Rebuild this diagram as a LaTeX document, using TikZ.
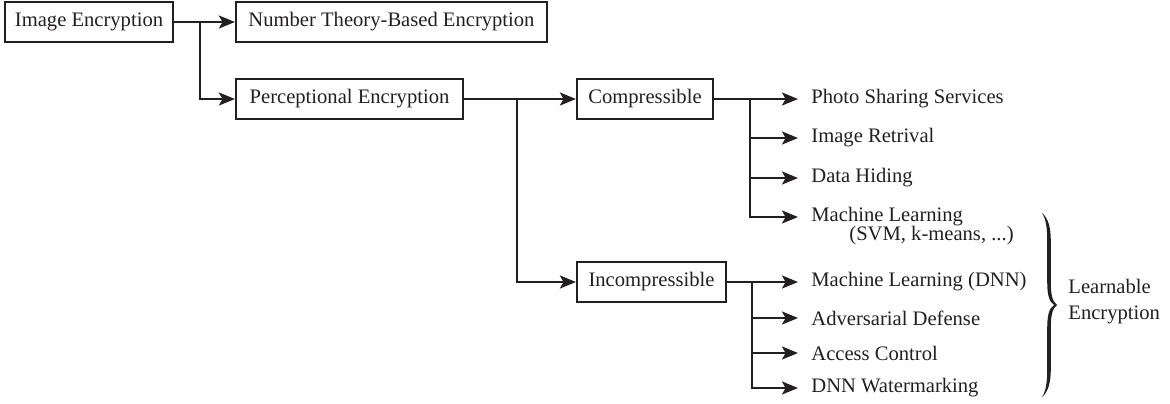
\documentclass[tikz,border=0pt]{standalone}
\usepackage{fontspec}
\setmainfont{Liberation Serif}
\usetikzlibrary{arrows.meta}
\definecolor{ink}{HTML}{231F20}
\tikzset{
  fnt/.style={font=\fontsize{10.3}{12.4}\selectfont, text=ink},
  box/.style={fnt, draw=ink, line width=1.1pt, minimum height=20pt, inner sep=0pt},
  leaf/.style={fnt, anchor=west, inner xsep=6.5pt, inner ysep=0pt},
  txt/.style={fnt, inner sep=0pt},
  conn/.style={draw=ink, line width=1.1pt},
  arr/.style={draw=ink, line width=1.1pt, -{Stealth[length=8pt,width=6.5pt,inset=1.8pt]}},
}
\begin{document}
\begin{tikzpicture}[x=0.5pt,y=-0.5pt]
\useasboundingbox (0,0) rectangle (1170,403);
% boxes
\node[box, minimum width=84pt] (ie) at (89,22) {Image Encryption};
\node[box, minimum width=155.5pt] (nt) at (391.5,22) {Number Theory-Based Encryption};
\node[box, minimum width=113.5pt] (pe) at (349.5,99) {Perceptional Encryption};
\node[box, minimum width=68pt] (cp) at (645,99) {Compressible};
\node[box, minimum width=74.5pt] (ic) at (651.5,282) {Incompressible};
% leaves
\node[leaf] (c1) at (798,99) {Photo Sharing Services};
\node[leaf] (c2) at (798,138) {Image Retrival};
\node[leaf] (c3) at (798,178) {Data Hiding};
\node[leaf] (c4) at (798,217) {Machine Learning};
\node[txt, anchor=west] (c4b) at (849,236) {(SVM, k-means, ...)};
\node[leaf] (i1) at (798,282) {Machine Learning (DNN)};
\node[leaf] (i2) at (798,318) {Adversarial Defense};
\node[leaf] (i3) at (798,353) {Access Control};
\node[leaf] (i4) at (798,388) {DNN Watermarking};
% branch points
\coordinate (b1) at (200,22);
\coordinate (b2) at (517,99);
\coordinate (b3) at (750,99);
\coordinate (b4) at (752,282);
% connectors
\draw[arr] (ie.east) -- (nt.west);
\draw[arr] (b1) |- (pe.west);
\draw[arr] (pe.east) -- (cp.west);
\draw[arr] (b2) |- (ic.west);
\draw[conn] (cp.east) -- (b3);
\draw[arr] (b3) -- (c1.west);
\draw[arr] (b3) |- (c2.west);
\draw[arr] (b3) |- (c3.west);
\draw[arr] (b3) |- (c4.west);
\draw[conn] (ic.east) -- (b4);
\draw[arr] (b4) -- (i1.west);
\draw[arr] (b4) |- (i2.west);
\draw[arr] (b4) |- (i3.west);
\draw[arr] (b4) |- (i4.west);
% brace (filled, tapered)
\fill[ink] (1042,213) .. controls (1048,218) and (1050.8,227) .. (1050.8,241)
  -- (1050.8,282) .. controls (1050.8,294) and (1052,301) .. (1057,305)
  .. controls (1052,309) and (1050.8,316) .. (1050.8,328)
  -- (1050.8,369) .. controls (1050.8,383) and (1048,392) .. (1042,397)
  .. controls (1046,391) and (1047.2,382) .. (1047.2,369)
  -- (1047.2,328) .. controls (1047.2,316) and (1049,308) .. (1054,305)
  .. controls (1049,302) and (1047.2,294) .. (1047.2,282)
  -- (1047.2,241) .. controls (1047.2,228) and (1046,219) .. (1042,213) -- cycle;
\node[txt, anchor=west, align=left, font=\fontsize{10.3}{13}\selectfont] (le) at (1068,302) {Learnable\\Encryption};
\end{tikzpicture}
\end{document}
